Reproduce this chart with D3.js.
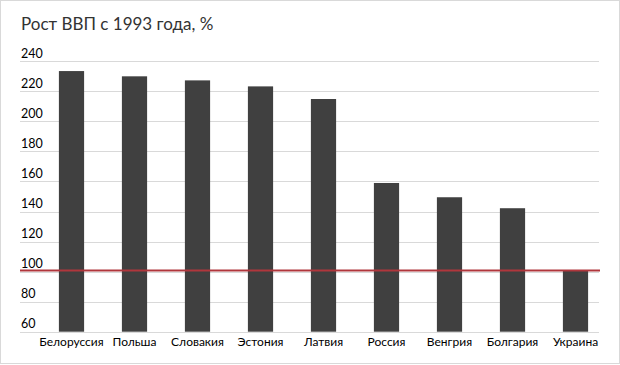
<!DOCTYPE html>
<html><head><meta charset="utf-8">
<script src="https://cdn.jsdelivr.net/npm/d3@7"></script>
<style>body{margin:0;background:#fff}svg{display:block}</style>
</head><body>
<svg id="c" width="620" height="365"></svg>
<script>
const categories = ["Белоруссия","Польша","Словакия","Эстония","Латвия","Россия","Венгрия","Болгария","Украина"];
const values = [233.5, 230, 227.3, 223.3, 214.9, 159, 149.5, 142.2, 100.5];
const yTicks = [60,80,100,120,140,160,180,200,220,240];
const refValue = 100;
const title = "Рост ВВП с 1993 года, %";

const svg = d3.select("#c");
const font = "Lato, 'Open Sans', sans-serif";
svg.append("rect").attr("x",0.5).attr("y",0.5).attr("width",619).attr("height",363)
  .attr("fill","#fff").attr("stroke","#d9d9d9");

const y = d3.scaleLinear().domain([60,240]).range([331.7,61.3]);
const x = d3.scaleBand().domain(categories).range([40,607]).paddingInner(0.6).paddingOuter(0.3);
const gx0 = 20, gx1 = 599;

svg.append("text").attr("x",21).attr("y",30).attr("font-family",font).attr("font-size",17)
  .attr("fill","#333").text(title);

const g = svg.append("g");
g.selectAll("line.grid").data(yTicks).join("line").attr("class","grid")
  .attr("x1",gx0).attr("x2",gx1).attr("y1",d=>Math.round(y(d))+0.5).attr("y2",d=>Math.round(y(d))+0.5)
  .attr("stroke","#d9d9d9").attr("stroke-width",1);
g.selectAll("text.yl").data(yTicks).join("text").attr("class","yl")
  .attr("x",21).attr("y",d=>y(d)-3.5).attr("font-family",font).attr("font-size",12.5)
  .attr("fill","#000").text(d=>d);

g.selectAll("rect.bar").data(values).join("rect").attr("class","bar")
  .attr("x",(d,i)=>x(categories[i])).attr("width",x.bandwidth())
  .attr("y",d=>y(d)).attr("height",d=>y(60)-y(d)).attr("fill","#404040");

g.selectAll("text.xl").data(categories).join("text").attr("class","xl")
  .attr("x",d=>x(d)+x.bandwidth()/2).attr("y",346).attr("text-anchor","middle")
  .attr("font-family",font).attr("font-size",12).attr("fill","#000").text(d=>d);

g.append("line").attr("x1",gx0).attr("x2",600).attr("y1",y(refValue)-1).attr("y2",y(refValue)-1)
  .attr("stroke","#b0363c").attr("stroke-width",2);
</script>
</body></html>
